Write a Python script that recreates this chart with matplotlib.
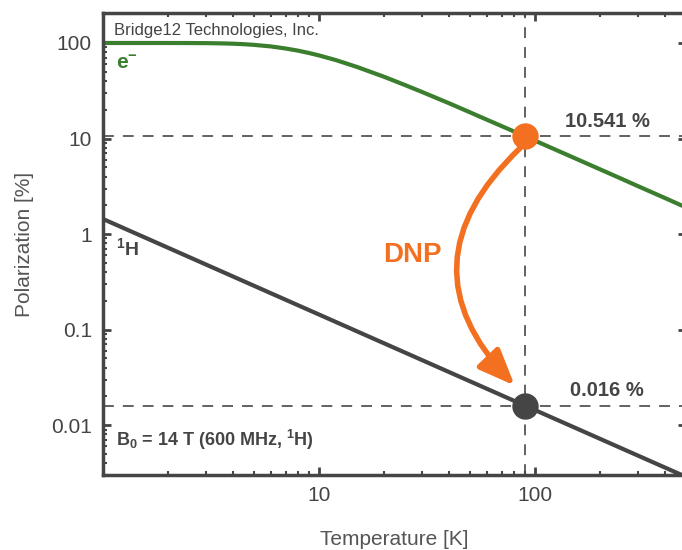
import numpy as np
import matplotlib
matplotlib.use("Agg")
import matplotlib.pyplot as plt
from matplotlib.ticker import FixedLocator, LogLocator, NullFormatter

plt.rcParams['font.family'] = ['Liberation Sans', 'DejaVu Sans']
plt.rcParams['mathtext.fontset'] = 'custom'
plt.rcParams['mathtext.rm'] = 'Liberation Sans'
plt.rcParams['mathtext.bf'] = 'Liberation Sans:bold'

# values
temp_e = [1, 1.5, 2, 2.5, 3, 3.5, 4, 4.5, 5, 6, 7, 8, 9, 10, 12, 15, 20, 25, 30,
          40, 50, 60, 70, 80, 90, 100, 120, 150, 200, 250, 300, 400, 500]
pol_e = [100, 100, 99.99, 99.9, 99.65, 99.14, 98.3, 97.1, 95.6, 92.0, 87.6, 83.1,
         78.5, 74.1, 66.1, 56.1, 44.3, 36.3, 30.7, 23.4, 18.8, 15.7, 13.5, 11.84,
         10.54, 9.49, 7.92, 6.34, 4.76, 3.81, 3.17, 2.38, 1.90]
temp_h = [1, 10, 90, 500]
pol_h = [1.44, 0.144, 0.016, 0.00288]

t_dnp = 90
p_e_dnp = 10.541
p_h_dnp = 0.016

green = '#3b7f2e'
orange = '#f37021'
dark = '#454545'

fig = plt.figure(figsize=(6.82, 5.5), dpi=100)
ax = fig.add_axes([0.151, 0.136, 0.855, 0.840])

ax.set_xscale('log')
ax.set_yscale('log')
ax.set_xlim(1, 500)
ax.set_ylim(0.003, 205)

dash = dict(color='#555555', lw=1.3, dashes=(6, 5), zorder=1)
ax.axvline(t_dnp, **dash)
ax.axhline(p_e_dnp, **dash)
ax.axhline(p_h_dnp, **dash)

ax.plot(temp_e, pol_e, color=green, lw=3, zorder=2, solid_capstyle='butt')
ax.plot(temp_h, pol_h, color=dark, lw=3, zorder=2, solid_capstyle='butt')

ax.plot(t_dnp, p_e_dnp, 'o', color=orange, ms=18, zorder=4)
ax.plot(t_dnp, p_h_dnp, 'o', color=dark, ms=18, zorder=4)

ax.annotate('', xy=(80.5, 0.026), xytext=(85, 7.9),
            arrowprops=dict(arrowstyle='-|>,head_length=2.2,head_width=0.9',
                            connectionstyle='arc3,rad=0.5',
                            color=orange, lw=4, shrinkA=0, shrinkB=0),
            zorder=3)

ax.text(27.2, 0.6, 'DNP', color=orange, fontsize=20, fontweight='bold',
        ha='center', va='center')
ax.text(137, 11.9, '%.3f %%' % p_e_dnp, color=dark, fontsize=14.5,
        fontweight='bold', ha='left', va='bottom')
ax.text(145, 0.0183, '%.3f %%' % p_h_dnp, color=dark, fontsize=14.5,
        fontweight='bold', ha='left', va='bottom')

ax.text(1.13, 134, 'Bridge12 Technologies, Inc.', color='#444444', fontsize=12,
        ha='left', va='center')
ax.text(1.15, 63, r'$\mathbf{e^{-}}$', color=green, fontsize=15, ha='left',
        va='center')
ax.text(1.15, 0.72, r'$\mathbf{^{1}H}$', color=dark, fontsize=14, ha='left',
        va='center')
ax.text(1.15, 0.007, r'$\mathbf{B_0}$ = 14 T (600 MHz, $\mathbf{^{1}}$H)',
        color=dark, fontsize=13, fontweight='bold', ha='left', va='center')

ax.xaxis.set_major_locator(FixedLocator([10, 100]))
ax.set_xticklabels(['10', '100'])
ax.xaxis.set_minor_locator(LogLocator(base=10, subs=np.arange(2, 10)))
ax.xaxis.set_minor_formatter(NullFormatter())
ax.yaxis.set_major_locator(FixedLocator([0.01, 0.1, 1, 10, 100]))
ax.set_yticklabels(['0.01', '0.1', '1', '10', '100'])
ax.yaxis.set_minor_locator(LogLocator(base=10, subs=np.arange(2, 10)))
ax.yaxis.set_minor_formatter(NullFormatter())

ax.tick_params(which='both', direction='in', top=True, right=True,
               color=dark, labelcolor='#444444', labelsize=15)
ax.tick_params(which='major', length=6, width=2, pad=8)
ax.tick_params(which='minor', length=3, width=1.5)

for s in ax.spines.values():
    s.set_color(dark)
    s.set_linewidth(2.5)

ax.set_xlabel('Temperature [K]', fontsize=15, color='#555555', labelpad=18)
ax.set_ylabel('Polarization [%]', fontsize=15, color='#555555', labelpad=12)

fig.savefig('out.png', dpi=100)
